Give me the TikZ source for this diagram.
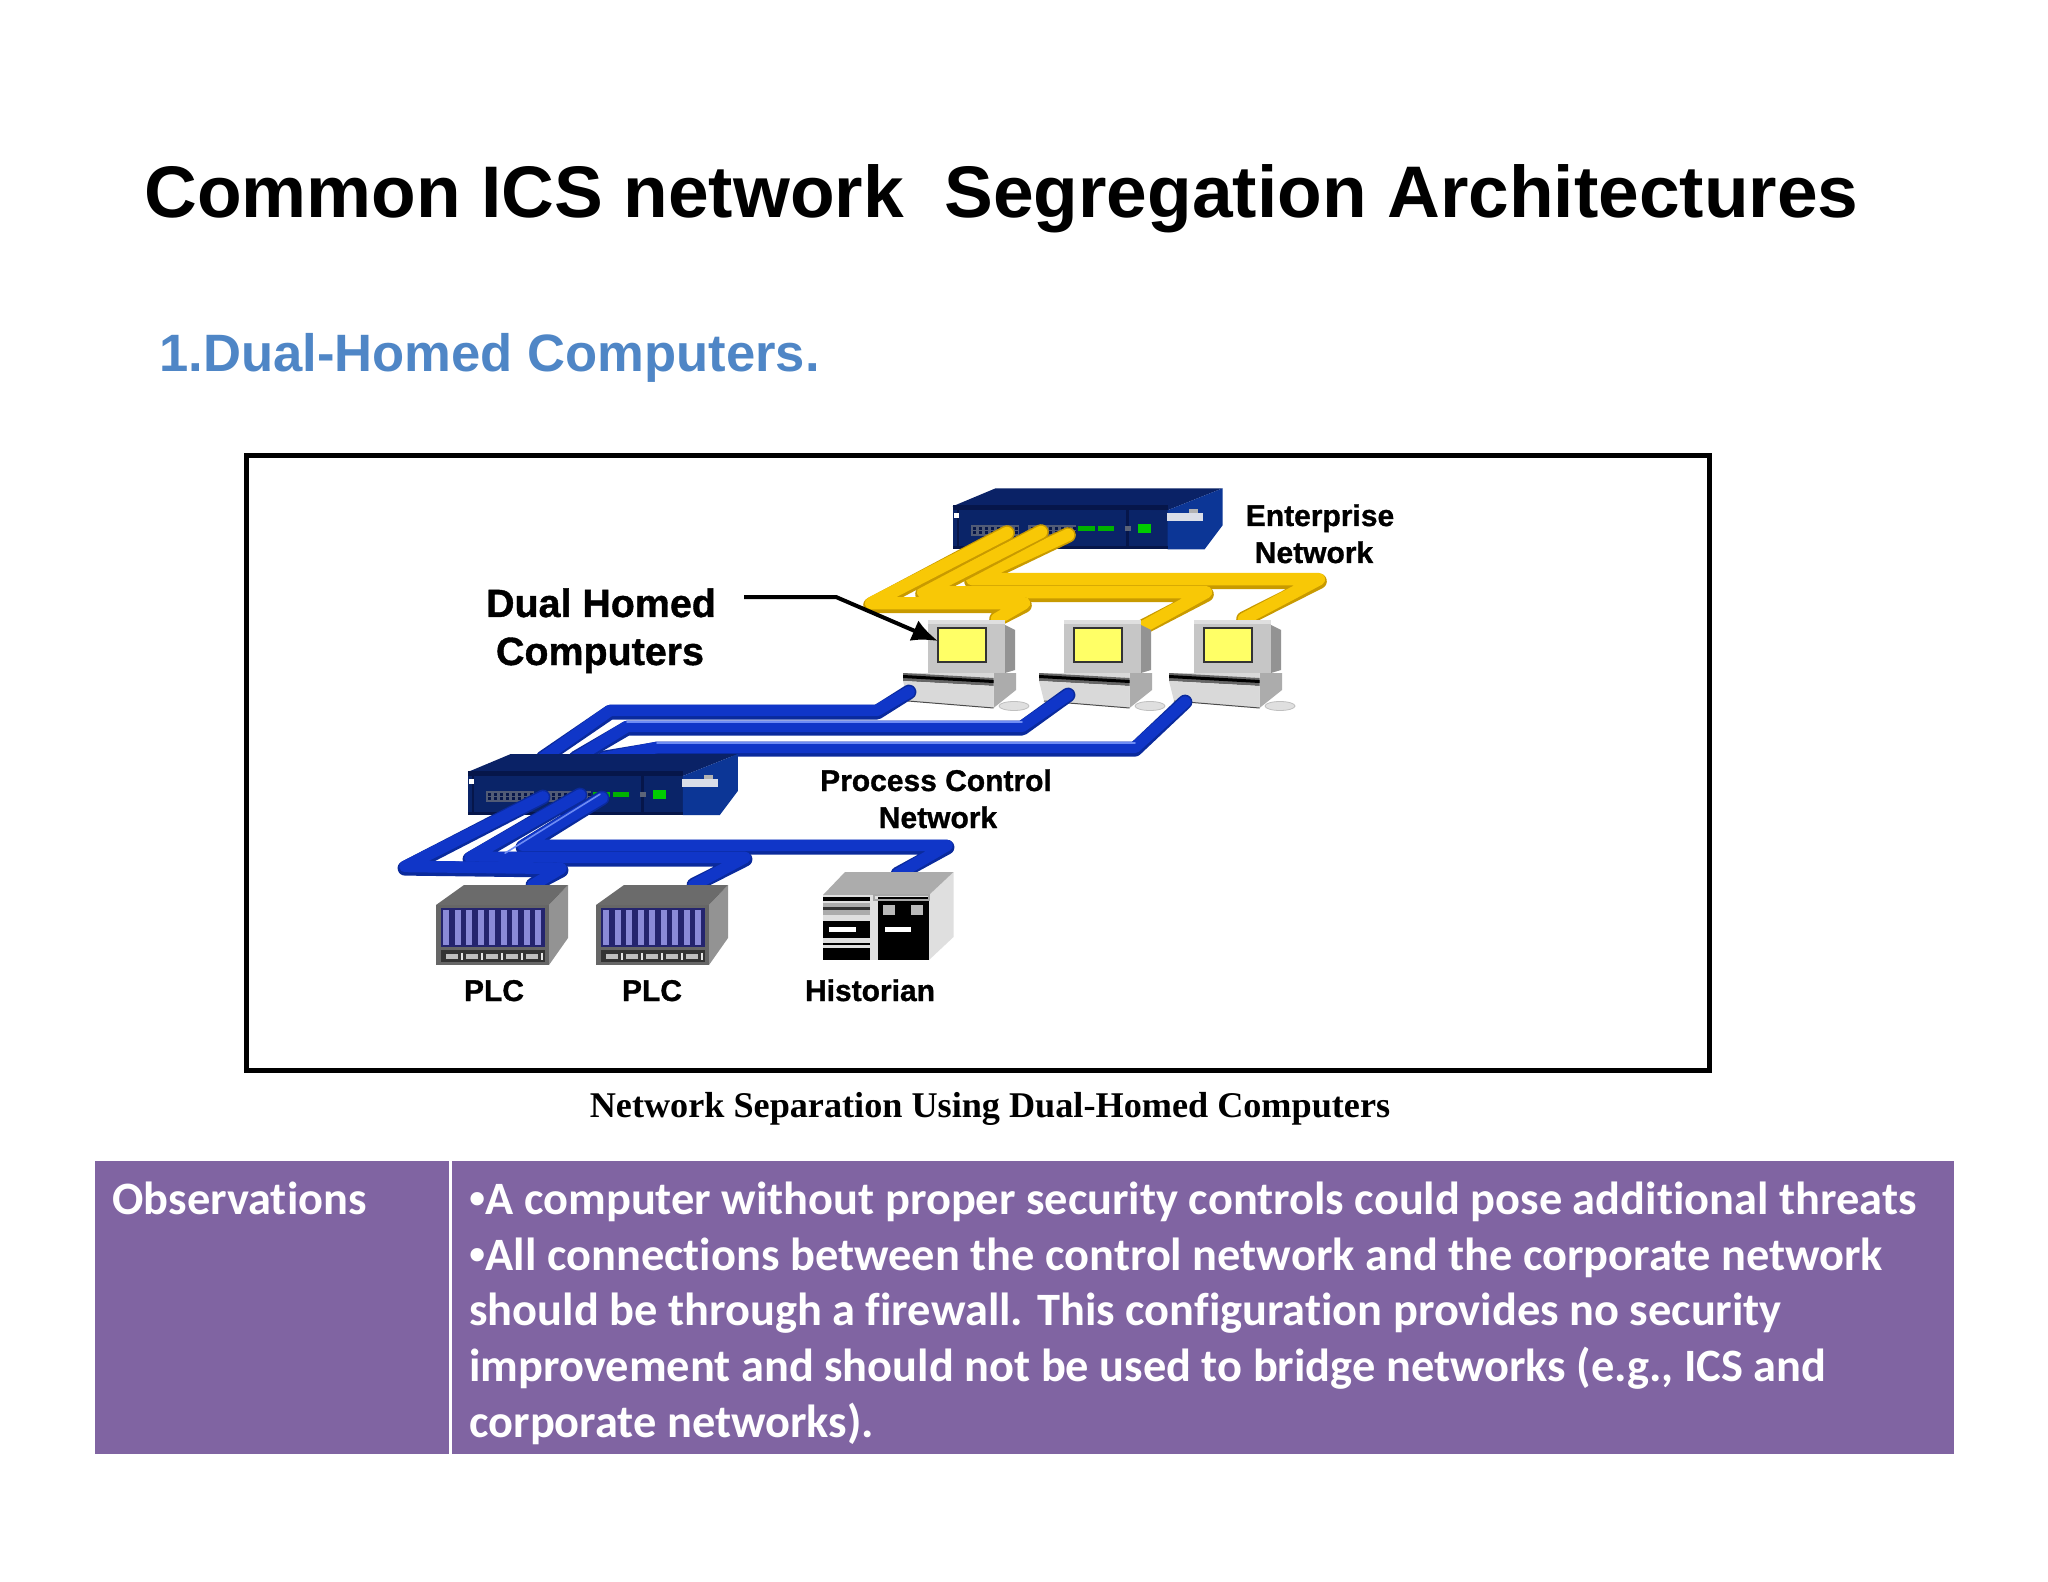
\documentclass[tikz,border=0pt]{standalone}
\usepackage{fontspec}
\usetikzlibrary{arrows.meta}
\setmainfont{Liberation Sans}
\newfontfamily\capfont{Liberation Serif}
\newfontfamily\bodyfont[Ligatures=NoCommon]{Carlito}
\newfontfamily\bulfont{Liberation Sans}
\newfontfamily\labfont[BoldFeatures={FakeBold=1}]{Liberation Sans}
\definecolor{swfront}{HTML}{0A2468}
\definecolor{swtop}{HTML}{0A2266}
\definecolor{swside}{HTML}{0C3696}
\definecolor{swdark}{HTML}{06164A}
\definecolor{yel}{HTML}{F8C806}
\definecolor{yeld}{HTML}{C89A00}
\definecolor{blu}{HTML}{1036C8}
\definecolor{blud}{HTML}{0A2A9C}
\definecolor{blul}{HTML}{6E8CF4}
\definecolor{purp}{HTML}{8064A2}
\definecolor{subt}{HTML}{4F86C6}
\definecolor{slot}{HTML}{8A8AD8}
\definecolor{slotbg}{HTML}{24246E}
\definecolor{scr}{HTML}{FFFF66}
\newcommand{\bul}{{\bulfont •}}
\tikzset{
  txt/.style={inner sep=0pt,font=\bfseries,text=black,align=center},
  lab/.style={txt,anchor=base,font=\labfont\bfseries\fontsize{15}{18.5}\selectfont},
  bigl/.style={txt,anchor=base,font=\labfont\bfseries\fontsize{19.7}{23.5}\selectfont},
  ydark/.style={line width=7.8pt,color=yeld,line join=round,line cap=round,yshift=-0.6pt},
  ymain/.style={line width=6.2pt,color=yel,line join=round,line cap=round,yshift=0.4pt},
  bdark/.style={line width=7.4pt,color=blud,line join=round,line cap=round,yshift=-0.6pt},
  bmain/.style={line width=5.8pt,color=blu,line join=round,line cap=round,yshift=0.3pt},
  bhigh/.style={line width=0.8pt,color=blul,line join=round,line cap=round,yshift=1.4pt},
  netswitch/.pic={
    \fill[swfront] (0,0) rectangle (215,-43);
    \fill[swtop] (0,-43) -- (43,-61) -- (270,-61) -- (215,-39) -- cycle;
    \fill[swdark] (0,-44) rectangle (215,-39);
    \fill[swside] (215,-39) -- (270,-61) -- (270,-24) -- (252,0) -- (215,0) -- cycle;
    \fill[swdark] (0,0) rectangle (215,-3);
    \fill[swdark] (4,-39) rectangle (6,0);
    \fill[swdark] (173,-39) rectangle (176,0);
    \fill[white] (1.5,-36) rectangle (6.5,-31);
    \fill[gray!60!swfront] (18,-24) rectangle (66,-13);
    \fill[gray!60!swfront] (75,-24) rectangle (123,-13);
    \foreach \px in {20,26,...,62,78,84,...,120}{\fill[swdark] (\px,-22) rectangle (\px+3,-19);\fill[swdark] (\px,-18) rectangle (\px+3,-15);}
    \fill[green!70!black] (125,-23) rectangle (142,-18);
    \fill[green!70!black] (145,-23) rectangle (161,-18);
    \fill[gray!70!swfront] (172,-23) rectangle (178,-18);
    \fill[green!80!black] (185,-25) rectangle (198,-16);
    \fill[white!85!swfront] (214,-36) rectangle (250,-28);
    \fill[gray!60!white] (236,-40) rectangle (245,-36);
  },
  pcunit/.pic={
    \fill[gray!85] (67,-3) -- (77,2) -- (77,42) -- (67,45) -- cycle;
    \fill[gray!45] (-10,-8) -- (67,-8) -- (67,45) -- (-10,45) -- cycle;
    \fill[gray!25] (-10,-8) -- (67,-8) -- (67,-4) -- (-10,-4) -- cycle;
    \draw[black!80,line width=1pt,fill=scr] (0,0) rectangle (48,34);
    \fill[gray!65] (55.5,45) -- (78,45) -- (78,62) -- (55.5,80) -- cycle;
    \fill[gray!30] (-35,45) -- (55.5,45) -- (55.5,50) -- (-35,46) -- cycle;
    \fill[gray!80!black] (-35,45) -- (55.5,50) -- (55.5,58) -- (-35,53) -- cycle;
    \fill[black] (-35,47) -- (55.5,52) -- (55.5,55) -- (-35,50) -- cycle;
    \fill[gray!30] (-35,53) -- (55.5,58) -- (55.5,80) -- (-30,73) -- cycle;
    \draw[gray!60!black,line width=0.5pt] (-30,73) -- (55.5,80);
    \draw[gray!50,fill=gray!25,line width=0.4pt] (76,78) ellipse (15 and 4.5);
  },
  plcunit/.pic={
    \fill[gray!85] (113,0) -- (132,-20) -- (132,33) -- (113,60) -- cycle;
    \fill[black!58] (0,0) -- (28,-20) -- (132,-20) -- (113,0) -- cycle;
    \fill[gray!80!black] (0,0) rectangle (113,60);
    \fill[slotbg] (4.5,3.3) rectangle (109,41.6);
    \foreach \px in {7,18.5,...,100}{\fill[slot] (\px,5) rectangle (\px+6,40);}
    \fill[black!80] (4.5,45) rectangle (109,57);
    \foreach \px in {10,30,50,70,90}{\fill[gray!50] (\px,49) rectangle (\px+12,54);\fill[gray!20] (\px+15,48) rectangle (\px+17,55);}
  },
  historianunit/.pic={
    \fill[gray!25] (106,0) -- (130.5,-23) -- (130.5,42) -- (106,65) -- cycle;
    \fill[gray!65] (0,0) -- (22,-23) -- (130.5,-23) -- (106,0) -- cycle;
    \fill[gray!25] (0,0) rectangle (106,65);
    \fill[black] (0,2) rectangle (47,6);
    \fill[gray!65] (0,8) rectangle (47,20);
    \fill[black!80] (0,12) rectangle (47,15);
    \fill[black] (0,26) rectangle (47,43);
    \fill[white] (6,32) rectangle (33,37);
    \fill[black] (0,48) rectangle (47,50);
    \fill[black] (0,53) rectangle (47,65);
    \fill[black] (55,2) rectangle (106,65);
    \fill[gray!55] (60,10) rectangle (72,20);
    \fill[gray!55] (88,10) rectangle (100,20);
    \fill[white] (62,32) rectangle (88,37);
    \draw[gray!70,line width=0.8pt] (51,0) rectangle (106,5);
  }
}
\begin{document}
\begin{tikzpicture}[x=0.5pt,y=-0.5pt]
\useasboundingbox (0,0) rectangle (2048,1582);
\fill[white] (0,0) rectangle (2048,1582);

% Headings
\node[txt,anchor=base west,font=\bfseries\fontsize{36.55}{44}\selectfont] (title) at (144,218) {Common ICS network\ \ Segregation Architectures};
\node[txt,anchor=base west,text=subt,font=\bfseries\fontsize{26.3}{30}\selectfont] (sub) at (159,372) {1.Dual-Homed Computers.};

% Frame
\node[draw=black,line width=2.5pt,inner sep=0pt,minimum width=731.5pt,minimum height=307pt] (frame) at (977.5,763) {};

% Anchor coordinates for connectors
\coordinate (ySw1) at (1007,533);
\coordinate (ySw2) at (1041,532);
\coordinate (ySw3) at (1068,535);
\coordinate (yPc1) at (997,619);
\coordinate (yPc2) at (1143,627);
\coordinate (yPc3) at (1244,619);
\coordinate (bPc1) at (909,692);
\coordinate (bPc2) at (1068,695);
\coordinate (bPc3) at (1185,702);
\coordinate (bSw1) at (543,758);
\coordinate (bSw2) at (576,758);
\coordinate (bSw3) at (604,758);
\coordinate (cSw1) at (543,797);
\coordinate (cSw2) at (580,795);
\coordinate (cSw3) at (602,798);
\coordinate (cPlc1) at (533,885);
\coordinate (cPlc2) at (694,885);
\coordinate (cHis) at (898,874);

% Top switch
\pic at (952.6,549.3) {netswitch};

% Yellow cables
\draw[ydark] (ySw3) -- (972,580) -- (1319,580) -- (yPc3);
\draw[ymain] (ySw3) -- (972,580) -- (1319,580) -- (yPc3);
\draw[ydark] (ySw2) -- (923,593) -- (1206,593) -- (yPc2);
\draw[ymain] (ySw2) -- (923,593) -- (1206,593) -- (yPc2);
\draw[ydark] (ySw1) -- (871,604) -- (1024,604) -- (yPc1);
\draw[ymain] (ySw1) -- (871,604) -- (1024,604) -- (yPc1);

% Computers
\pic at (938,628) {pcunit};
\pic at (1074,628) {pcunit};
\pic at (1204,628) {pcunit};

% Upper blue cables
\draw[bdark] (bPc3) -- (1135,748) -- (657,748) -- (bSw3);
\draw[bmain] (bPc3) -- (1135,748) -- (657,748) -- (bSw3);
\draw[bhigh] (1135,746) -- (657,746);
\draw[bdark] (bPc2) -- (1022,727) -- (627,727) -- (bSw2);
\draw[bmain] (bPc2) -- (1022,727) -- (627,727) -- (bSw2);
\draw[bhigh] (1022,725) -- (627,725);
\draw[bdark] (bPc1) -- (877,711) -- (610,711) -- (bSw1);
\draw[bmain] (bPc1) -- (877,711) -- (610,711) -- (bSw1);

% Bottom switch
\pic at (467.8,815) {netswitch};

% Lower blue cables
\draw[bdark] (cSw3) -- (523,846) -- (947,846) -- (cHis);
\draw[bmain] (cSw3) -- (523,846) -- (947,846) -- (cHis);
\draw[bdark] (cSw2) -- (470,858) -- (745,858) -- (cPlc2);
\draw[bmain] (cSw2) -- (470,858) -- (745,858) -- (cPlc2);
\draw[bhigh] (600,797) -- (505,856);
\draw[bdark] (cSw1) -- (405,867) -- (561,869) -- (cPlc1);
\draw[bmain] (cSw1) -- (405,867) -- (561,869) -- (cPlc1);

% Field devices
\pic at (436,905) {plcunit};
\pic at (596,905) {plcunit};
\pic at (823,895) {historianunit};

% Labels
\node[lab] (ent) at (1320,526) {Enterprise};
\node[lab] (entn) at (1314,563) {Network};
\node[lab] (pcn) at (936,791) {Process Control};
\node[lab] (pcnn) at (938,828) {Network};
\node[lab] (plc1) at (494,1001) {PLC};
\node[lab] (plc2) at (652,1001) {PLC};
\node[lab] (his) at (870,1001) {Historian};
\node[bigl] (dh1) at (601,617) {Dual Homed};
\node[bigl] (dh2) at (600,665) {Computers};

% Arrow
\coordinate (arrS) at (744,597);
\coordinate (arrT) at (938,641);
\draw[line width=2pt,-{Latex[length=13pt,width=11pt]}] (arrS) -- (836,597) -- (arrT);

% Caption
\node[inner sep=0pt,font=\capfont\bfseries\fontsize{18.1}{22}\selectfont] (cap) at (990,1109) {Network Separation Using Dual-Homed Computers};

% Table
\fill[purp] (95,1161) rectangle (449,1454);
\fill[purp] (452,1161) rectangle (1954,1454);
\node[inner sep=0pt,anchor=base west,text=white,font=\bodyfont\bfseries\fontsize{23.2}{27.85}\selectfont] (obs) at (112,1214) {Observations};
\node[inner sep=0pt,anchor=north west,text=white,align=left,font=\bodyfont\bfseries\fontsize{23.2}{27.85}\selectfont] (body) at (469,1175) {\strut \bul A computer without proper security controls could pose additional threats\\
\strut \bul All connections between the control network and the corporate network\\
\strut should be through a firewall. This configuration provides no security\\
\strut improvement and should not be used to bridge networks (e.g., ICS and\\
\strut corporate networks).};
\end{tikzpicture}
\end{document}
